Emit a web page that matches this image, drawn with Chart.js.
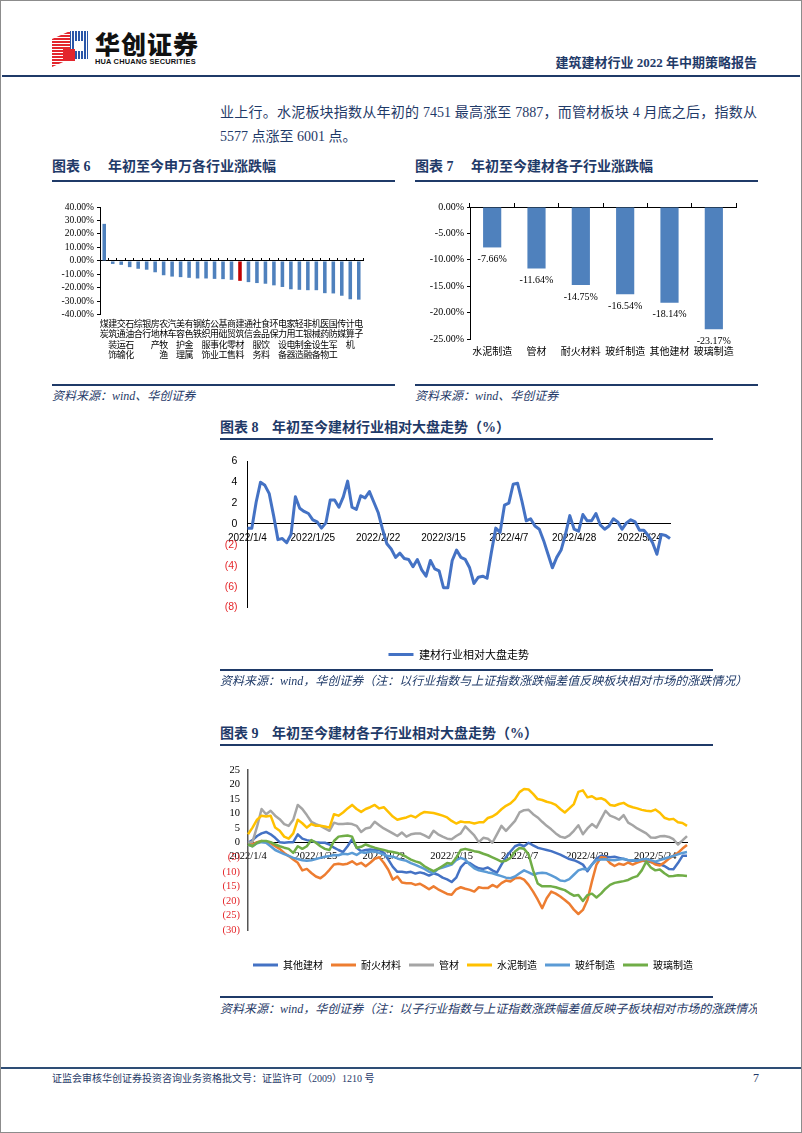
<!DOCTYPE html>
<html>
<head>
<meta charset="utf-8">
<script src="https://cdn.jsdelivr.net/npm/chart.js@4.4.1/dist/chart.umd.min.js"></script>
<style>
html,body{margin:0;padding:0;background:#fff;}
#page{position:relative;width:802px;height:1133px;overflow:hidden;background:#fff;font-family:"Liberation Serif","Noto Sans CJK SC",serif;}
#frame{position:absolute;left:0;top:0;width:802px;height:1133px;box-sizing:border-box;border:1px solid #8c8c8c;pointer-events:none;}
.rule{position:absolute;background:#1f3a68;}
.title{position:absolute;font-family:"Liberation Serif","Noto Sans CJK SC",serif;font-weight:700;font-size:14px;color:#1f3a68;white-space:nowrap;line-height:16px;}
.src{position:absolute;font-family:"Liberation Serif","Noto Sans CJK SC",serif;font-style:italic;color:#1f3a68;white-space:nowrap;}
canvas{position:absolute;}
.body{position:absolute;left:220px;width:537px;font-size:14px;line-height:18px;color:#1f3a68;white-space:nowrap;font-family:"Liberation Serif","Noto Sans CJK SC",serif;}
</style>
</head>
<body>
<div id="page">
  <!-- header -->
  <svg style="position:absolute;left:51px;top:29px" width="40" height="40" viewBox="0 0 40 40">
    <defs>
      <pattern id="rs" width="4" height="3" patternUnits="userSpaceOnUse"><rect width="4" height="2" fill="#e3262d"/></pattern>
      <pattern id="bs" width="3" height="4" patternUnits="userSpaceOnUse"><rect width="2" height="4" fill="#2a56a8"/></pattern>
    </defs>
    <polygon points="1,10 19,2 19,30 1,38" fill="url(#rs)"/>
    <polygon points="19,2 37,2 37,30 19,30" fill="url(#bs)"/>
    <rect x="23" y="12" width="10" height="10" fill="#fff"/>
    <rect x="12" y="20" width="12" height="12" fill="#e3262d"/>
  </svg>
  <div style="position:absolute;left:95px;top:28px;font-family:'Noto Sans CJK SC';font-weight:900;font-size:25px;letter-spacing:1px;color:#111;line-height:30px;">华创证券</div>
  <div style="position:absolute;left:95px;top:57px;font-family:'Liberation Sans';font-weight:700;font-size:7.4px;color:#111;line-height:9px;letter-spacing:0.2px;">HUA CHUANG SECURITIES</div>
  <div style="position:absolute;right:45px;top:55px;font-family:'Liberation Serif','Noto Sans CJK SC';font-weight:700;font-size:13px;color:#1f3a68;line-height:16px;white-space:nowrap;">建筑建材行业 2022 年中期策略报告</div>
  <div class="rule" style="left:2px;top:75px;width:798px;height:2px;"></div>

  <div class="body" style="top:104px;text-align:justify;text-align-last:justify;">业上行。水泥板块指数从年初的 7451 最高涨至 7887，而管材板块 4 月底之后，指数从</div>
  <div class="body" style="top:128px;">5577 点涨至 6001 点。</div>

  <!-- chart 6 / 7 headings -->
  <div class="title" style="left:52px;top:159px;">图表 6</div>
  <div class="title" style="left:108px;top:159px;">年初至今申万各行业涨跌幅</div>
  <div class="rule" style="left:52px;top:180px;width:343px;height:2px;"></div>
  <div class="title" style="left:415px;top:159px;">图表 7</div>
  <div class="title" style="left:471px;top:159px;">年初至今建材各子行业涨跌幅</div>
  <div class="rule" style="left:415px;top:180px;width:343px;height:2px;"></div>

  <canvas id="c6" width="350" height="175" style="left:45px;top:195px;"></canvas>
  <canvas id="c7" width="350" height="175" style="left:415px;top:195px;"></canvas>

  <div class="rule" style="left:52px;top:384px;width:343px;height:1.5px;"></div>
  <div class="rule" style="left:415px;top:384px;width:343px;height:1.5px;"></div>
  <div class="src" style="left:52px;top:388px;font-size:12px;line-height:16px;">资料来源：wind、华创证券</div>
  <div class="src" style="left:415px;top:388px;font-size:12px;line-height:16px;">资料来源：wind、华创证券</div>

  <!-- chart 8 -->
  <div class="title" style="left:220px;top:420px;">图表 8</div>
  <div class="title" style="left:272px;top:420px;">年初至今建材行业相对大盘走势（%）</div>
  <div class="rule" style="left:220px;top:438px;width:493px;height:2px;"></div>
  <canvas id="c8" width="495" height="230" style="left:220px;top:445px;"></canvas>
  <div class="rule" style="left:220px;top:669px;width:493px;height:1.5px;"></div>
  <div class="src" style="left:220px;top:674px;font-size:12px;line-height:15px;">资料来源：wind，华创证券（注：以行业指数与上证指数涨跌幅差值反映板块相对市场的涨跌情况）</div>

  <!-- chart 9 -->
  <div class="title" style="left:220px;top:726px;">图表 9</div>
  <div class="title" style="left:272px;top:726px;">年初至今建材各子行业相对大盘走势（%）</div>
  <div class="rule" style="left:220px;top:744px;width:493px;height:2px;"></div>
  <canvas id="c9" width="510" height="235" style="left:220px;top:750px;"></canvas>
  <div class="rule" style="left:220px;top:996px;width:493px;height:1.5px;"></div>
  <div style="position:absolute;left:220px;top:1001px;width:537px;height:18px;overflow:hidden;">
    <div class="src" style="left:0;top:1px;font-size:12px;line-height:15px;">资料来源：wind，华创证券（注：以子行业指数与上证指数涨跌幅差值反映子板块相对市场的涨跌情况）</div>
  </div>

  <!-- footer -->
  <div class="rule" style="left:0;top:1067px;width:802px;height:2px;background:#2e4d75;"></div>
  <div style="position:absolute;left:52px;top:1072px;font-size:10px;line-height:14px;color:#1f3a68;white-space:nowrap;font-family:'Liberation Serif','Noto Sans CJK SC';">证监会审核华创证券投资咨询业务资格批文号：证监许可（2009）1210 号</div>
  <div style="position:absolute;left:753px;top:1071px;font-size:12px;line-height:15px;color:#1f3a68;font-family:'Liberation Serif';">7</div>
  <div id="frame"></div>
</div>

<script>
// ---------- data ----------
const swIndustries = ['煤炭','建筑装饰','交通运输','石油石化','综合','银行','房地产','农林牧渔','汽车','美容护理','有色金属','钢铁','纺织服饰','公用事业','基础化工','商贸零售','建筑材料','通信','社会服务','食品饮料','环保','电力设备','家用电器','轻工制造','非银金融','机械设备','医药生物','国防军工','传媒','计算机','电子'];
const swChange = [27.5, -2.2, -2.9, -4.6, -5.8, -6.5, -8.4, -10.6, -11.6, -12.0, -12.5, -13.0, -13.0, -13.3, -13.5, -14.0, -14.75, -15.7, -16.4, -16.9, -18.1, -19.3, -21.0, -21.4, -21.7, -21.7, -23.9, -24.1, -25.8, -28.4, -28.7];
const highlightIndustry = '建筑材料';

const subIndustries = ['水泥制造','管材','耐火材料','玻纤制造','其他建材','玻璃制造'];
const subChange = [-7.66, -11.64, -14.75, -16.54, -18.14, -23.17];

const janDays = [4,5,6,7,10,11,12,13,14,17,18,19,20,21,24,25,26,27,28];
const febDays = [7,8,9,10,11,14,15,16,17,18,21,22,23,24,25,28];
const marDays = [1,2,3,4,7,8,9,10,11,14,15,16,17,18,21,22,23,24,25,28,29,30,31];
const aprDays = [1,6,7,8,11,12,13,14,15,18,19,20,21,22,25,26,27,28,29];
const mayDays = [5,6,9,10,11,12,13,16,17,18,19,20,23,24,25,26,27,30,31];
const junDays = [1,2];
const tradingDates = [].concat(
  janDays.map(d => '2022/1/' + d), febDays.map(d => '2022/2/' + d), marDays.map(d => '2022/3/' + d),
  aprDays.map(d => '2022/4/' + d), mayDays.map(d => '2022/5/' + d), junDays.map(d => '2022/6/' + d));
const shownDates = ['2022/1/4','2022/1/25','2022/2/22','2022/3/15','2022/4/7','2022/4/28','2022/5/24'];

const bmRelative = [-0.4, -0.4, 2.1, 4.0, 3.7, 2.9, 0.8, -1.5, -1.4, -1.8,
 -1.0, 2.6, 1.5, 1.2, 1.0, 0.4, 0.2, -0.4, 0.1, 2.3,
 2.3, 1.6, 2.6, 4.1, 1.6, 1.4, 2.7, 2.5, 3.1, 2.1,
 1.1, -0.5, -1.9, -2.4, -3.2, -2.8, -3.3, -3.4, -4.1, -3.4,
 -4.4, -5.0, -3.5, -4.3, -4.5, -6.1, -6.1, -3.5, -2.5, -3.2,
 -3.4, -4.2, -5.7, -5.1, -5.0, -5.2, -2.7, -0.4, -0.8, 1.8,
 2.0, 3.8, 3.9, 2.2, 0.3, 0.5, -0.2, -0.5, -1.6, -2.9,
 -4.2, -3.2, -2.5, -1.0, 0.8, -0.5, -0.7, 0.9, 0.3, 0.3,
 1.0, -0.1, -0.5, -0.2, 0.5, 0.2, -0.5, 0.1, 0.4, 0.2,
 -0.6, -0.6, -1.1, -1.8, -2.9, -1.0, -1.1, -1.4];

const otherBM = [0, 0.9, 2.3, 3.2, 3.7, 2.9, 1.7, 0.2, 0, 0.2,
 0.2, 2.9, 1.4, 0.9, 0.6, 0.2, 0, 0, -0.6, -1.7,
 -2.5, -3.2, -1.2, 1.2, -1.7, -2.9, -2.5, -2.3, -2.5, -2.5,
 -3.5, -5.8, -8.3, -10.0, -10.0, -10.2, -10.0, -10.6, -10.2, -10.6,
 -11.3, -10.5, -11.0, -12.0, -12.6, -13.5, -12.0, -8.5, -6.8, -7.0,
 -8.0, -8.8, -9.0, -8.5, -9.5, -10.3, -7.5, -5.0, -3.0, -1.2,
 -0.6, -1.2, 0, -0.9, -1.7, -2.1, -2.5, -2.9, -3.5, -4.1,
 -4.9, -5.6, -6.0, -6.7, -7.5, -9.8, -7.5, -5.5, -4.5, -4.8,
 -5.0, -4.8, -5.2, -5.6, -6.0, -6.2, -6.0, -6.2, -6.3, -6.6,
 -7.0, -7.4, -8.0, -9.0, -9.1, -7.0, -4.5, -4.5];
const refractory = [0, -0.6, 0.2, 0.6, 0.2, -0.2, -1.2, -2.1, -3.5, -4.6,
 -5.8, -6.9, -9.5, -9.0, -10.4, -11.6, -12.2, -11.0, -9.3, -7.5,
 -7.2, -7.5, -7.2, -6.4, -7.5, -6.9, -8.1, -6.9, -5.5, -5.0,
 -6.9, -9.3, -12.7, -11.6, -13.7, -13.9, -13.9, -14.5, -14.1, -15.0,
 -16.0, -15.0, -16.0, -16.8, -17.6, -17.9, -16.0, -15.3, -15.8, -16.2,
 -16.8, -15.3, -15.6, -15.6, -14.5, -15.3, -13.9, -13.0, -13.3, -12.2,
 -12.0, -12.7, -14.5, -16.8, -19.5, -22.5, -19.1, -16.8, -17.5, -18.5,
 -19.7, -21.0, -23.0, -24.5, -23.1, -19.7, -13.3, -7.5, -5.0, -5.2,
 -7.0, -8.0, -7.2, -7.6, -6.8, -7.5, -6.8, -6.3, -5.8, -6.5,
 -7.5, -7.8, -6.8, -5.5, -4.5, -3.5, -2.0, -0.8];
const pipe = [0, 0.3, 5.5, 11.6, 9.8, 11.0, 9.3, 8.1, 6.4, 5.8,
 7.9, 13.0, 11.6, 9.5, 7.2, 6.4, 5.8, 4.9, 4.1, 6.9,
 6.4, 6.4, 6.6, 6.4, 5.8, 3.7, 4.9, 5.2, 7.2, 6.0,
 4.9, 4.1, 3.2, 2.3, 3.5, 2.1, 2.9, 3.2, 3.2, 2.5,
 1.7, 4.1, 2.9, 2.1, 1.4, 1.2, 2.3, 3.2, 5.6, 4.1,
 2.5, 0.2, 1.7, 1.4, 0, 2.9, 5.8, 4.1, 5.8, 7.5,
 10.4, 11.2, 11.3, 9.8, 8.7, 7.2, 5.8, 4.6, 3.2, 2.1,
 1.7, 2.5, 4.1, 6.0, 2.9, 4.9, 6.4, 5.2, 8.1, 11.0,
 9.3, 8.7, 7.9, 9.5, 6.9, 6.0, 4.9, 4.1, 3.2, 1.8,
 1.7, 2.2, 2.3, 2.0, 1.2, -0.6, 0.8, 2.3];
const cement = [2.9, 5.2, 7.9, 9.3, 9.0, 9.3, 5.2, 4.1, 2.1, 1.4,
 3.2, 7.9, 6.7, 5.2, 6.4, 5.8, 5.8, 5.6, 5.2, 9.8,
 9.3, 10.4, 11.8, 13.0, 11.6, 10.6, 11.6, 12.2, 13.0, 11.8,
 12.2, 10.6, 9.0, 7.9, 8.3, 8.7, 9.3, 8.7, 9.8, 10.6,
 10.4, 10.2, 9.8, 9.3, 8.7, 7.5, 6.6, 7.3, 7.0, 7.0,
 6.6, 7.0, 7.0, 8.5, 9.0, 10.0, 11.5, 12.7, 13.5, 15.0,
 17.4, 18.5, 18.3, 16.8, 15.0, 14.7, 14.1, 13.7, 13.0, 11.6,
 10.4, 11.8, 13.3, 17.5, 18.0, 15.6, 16.0, 15.0, 15.3, 14.6,
 13.0, 12.7, 13.3, 13.7, 12.7, 12.2, 11.8, 11.3, 11.0, 10.8,
 11.4, 10.3, 8.6, 8.0, 8.2, 7.0, 6.8, 5.8];
const fiberglass = [-0.6, -1.2, -0.2, 0.2, 0, -1.2, -2.5, -3.2, -3.9, -4.5,
 -5.2, -5.6, -6.0, -6.2, -6.0, -5.6, -5.2, -4.8, -4.6, -4.2,
 -4.3, -3.8, -4.0, -3.5, -4.2, -3.2, -3.5, -3.0, -3.0, -3.5,
 -4.1, -4.6, -4.8, -5.4, -5.9, -6.2, -7.0, -7.6, -8.3, -9.0,
 -10.0, -10.4, -9.0, -8.5, -8.0, -7.5, -6.0, -5.2, -5.8, -7.5,
 -8.8, -9.5, -9.8, -10.2, -10.5, -11.0, -11.5, -12.0, -12.2, -11.6,
 -10.5, -9.5, -10.2, -11.0, -10.5, -10.3, -10.5, -11.2, -12.0, -13.0,
 -13.2, -12.5, -11.0, -9.5, -9.0, -9.2, -7.5, -6.0, -5.8, -5.7,
 -5.9, -6.0, -5.8, -5.5, -6.0, -6.0, -6.2, -5.8, -5.6, -6.0,
 -6.5, -6.0, -5.5, -5.0, -4.5, -4.0, -3.5, -3.2];
const glass = [-0.6, -1.2, 0, 0.6, 0.6, 0.2, -0.6, -1.2, -1.7, -2.1,
 -3.5, -1.2, -2.1, -1.2, 0.9, 0, -1.2, -2.1, -2.5, 0.6,
 2.1, 2.3, 2.5, 2.1, -1.7, -1.4, -0.6, -1.2, -1.7, -2.1,
 -2.5, -2.9, -3.2, -3.5, -4.1, -4.9, -5.8, -6.4, -6.9, -8.1,
 -9.0, -9.8, -9.0, -8.0, -7.0, -7.2, -5.2, -2.5, -2.1, -2.5,
 -2.9, -3.2, -3.8, -4.3, -5.0, -5.7, -6.5, -6.2, -5.2, -3.0,
 -1.8, -2.1, -4.0, -9.5, -14.0, -15.0, -15.0, -15.0, -15.3, -15.8,
 -16.3, -17.3, -18.2, -18.0, -20.0, -18.0, -17.5, -18.8, -17.5, -15.8,
 -14.5, -13.8, -13.5, -13.2, -12.8, -12.0, -11.5, -9.5, -6.5, -8.5,
 -9.5, -9.2, -10.5, -11.5, -11.4, -11.2, -11.3, -11.4];

const subSeriesNames = ['其他建材','耐火材料','管材','水泥制造','玻纤制造','玻璃制造'];
const subSeriesValues = [otherBM, refractory, pipe, cement, fiberglass, glass];
const subSeriesColors = ['#4472c4','#ed7d31','#a5a5a5','#ffc000','#5b9bd5','#70ad47'];

// ---------- styles ----------
const FONT_SERIF = '"Liberation Serif", "Noto Sans CJK SC", serif';
const FONT_SANS = '"Liberation Sans", "Noto Sans CJK SC", sans-serif';
const FONT_CJK = '"Noto Sans CJK SC", "Liberation Serif", serif';
const NEG_RED = '#e5262a';
const BAR_BLUE = '#4f81bd';
const BAR_RED = '#c00000';

function base() {
  return { responsive: false, maintainAspectRatio: false, animation: false, devicePixelRatio: 1, events: [] };
}
const negColor = (c) => (c.tick && c.tick.value < 0) ? NEG_RED : '#000';
const parenLabel = (v) => v < 0 ? '(' + (-v) + ')' : String(v);
function dateTick(v) {
  const lab = this.getLabelForValue(v);
  return shownDates.indexOf(lab) >= 0 ? lab : '';
}

// ---------- chart 6 ----------
new Chart(document.getElementById('c6'), {
  type: 'bar',
  data: {
    labels: swIndustries.map(s => s.split('')),
    datasets: [{
      data: swChange,
      backgroundColor: swIndustries.map(n => n === highlightIndustry ? BAR_RED : BAR_BLUE),
      barPercentage: 0.42, categoryPercentage: 1, xAxisID: 'x', yAxisID: 'y'
    }]
  },
  options: Object.assign(base(), {
    layout: { padding: { left: 0, right: 32, top: 12, bottom: 7 } },
    plugins: { legend: { display: false }, tooltip: { enabled: false } },
    scales: {
      x: {
        type: 'category', position: 'bottom', offset: true,
        grid: { display: false, drawTicks: false }, border: { display: false },
        ticks: { autoSkip: false, maxRotation: 0, minRotation: 0, padding: 3, color: '#000',
                 font: { family: FONT_CJK, size: 9, lineHeight: 1.17 } }
      },
      x0: {
        type: 'category', axis: 'x', position: { y: 0 }, offset: true,
        grid: { display: true, drawOnChartArea: false, drawTicks: true, tickLength: -3, offset: true, color: '#000', lineWidth: 1 },
        border: { display: true, color: '#000', width: 1 },
        ticks: { display: false }
      },
      y: {
        min: -40, max: 40,
        grid: { display: true, drawOnChartArea: false, drawTicks: true, tickLength: 3, color: '#000' },
        border: { display: true, color: '#000', width: 1 },
        ticks: { stepSize: 10, autoSkip: false, padding: 3, color: '#000', font: { family: FONT_SERIF, size: 9.5 },
                 callback: v => v.toFixed(2) + '%' },
        afterFit: s => { s.width = 55; }
      }
    }
  })
});

// ---------- chart 7 ----------
const barValueLabels = {
  id: 'barValueLabels',
  afterDatasetsDraw(chart) {
    const ctx = chart.ctx;
    const meta = chart.getDatasetMeta(0);
    const vals = chart.data.datasets[0].data;
    ctx.save();
    ctx.font = '10px ' + FONT_SERIF;
    ctx.fillStyle = '#000';
    ctx.textAlign = 'center';
    ctx.textBaseline = 'middle';
    meta.data.forEach((bar, i) => {
      ctx.fillText(vals[i].toFixed(2) + '%', bar.x, bar.y + 12);
    });
    ctx.restore();
  }
};
new Chart(document.getElementById('c7'), {
  type: 'bar',
  data: {
    labels: subIndustries,
    datasets: [{ data: subChange, backgroundColor: BAR_BLUE, barPercentage: 0.41, categoryPercentage: 1, xAxisID: 'x', yAxisID: 'y' }]
  },
  plugins: [barValueLabels],
  options: Object.assign(base(), {
    layout: { padding: { left: 0, right: 29, top: 8, bottom: 7 } },
    plugins: { legend: { display: false }, tooltip: { enabled: false } },
    scales: {
      x: {
        type: 'category', position: 'bottom', offset: true,
        grid: { display: false, drawTicks: false }, border: { display: false },
        ticks: { autoSkip: false, maxRotation: 0, padding: 6, color: '#000', font: { family: FONT_CJK, size: 10, lineHeight: 1.2 } }
      },
      xTop: {
        type: 'category', axis: 'x', position: 'top', offset: true,
        grid: { display: true, drawOnChartArea: false, drawTicks: true, tickLength: 4, offset: true, color: '#000' },
        border: { display: true, color: '#000', width: 1 },
        ticks: { display: false }
      },
      y: {
        min: -25, max: 0,
        grid: { display: true, drawOnChartArea: false, drawTicks: true, tickLength: 3, color: '#000' },
        border: { display: true, color: '#000', width: 1 },
        ticks: { stepSize: 5, autoSkip: false, padding: 3, color: '#000', font: { family: FONT_SERIF, size: 10 },
                 callback: v => v.toFixed(2) + '%' },
        afterFit: s => { s.width = 55; }
      }
    }
  })
});

// ---------- chart 8 ----------
new Chart(document.getElementById('c8'), {
  type: 'line',
  data: {
    labels: tradingDates,
    datasets: [{
      label: '建材行业相对大盘走势', data: bmRelative,
      borderColor: '#4472c4', backgroundColor: '#4472c4', borderWidth: 3,
      pointRadius: 0, pointBorderWidth: 3, tension: 0, borderJoinStyle: 'round',
      xAxisID: 'x', yAxisID: 'y'
    }]
  },
  options: Object.assign(base(), {
    layout: { padding: { left: 0, right: 45, top: 16, bottom: 5 } },
    plugins: {
      tooltip: { enabled: false },
      legend: {
        position: 'bottom', fullSize: false,
        labels: { usePointStyle: true, pointStyle: 'line', pointStyleWidth: 25, padding: 10, color: '#000',
                  font: { family: FONT_CJK, size: 11 } }
      }
    },
    scales: {
      x: {
        type: 'category', position: { y: 0 },
        grid: { display: false, drawTicks: false },
        border: { display: true, color: '#000', width: 1 },
        ticks: { autoSkip: false, maxRotation: 0, minRotation: 0, padding: 8, color: '#000',
                 font: { family: FONT_SANS, size: 10, lineHeight: 1.2 }, callback: dateTick }
      },
      xPad: {
        type: 'category', axis: 'x', position: 'bottom',
        grid: { display: false, drawTicks: false }, border: { display: false }, ticks: { display: false },
        afterFit: s => { s.height = 31.5; }
      },
      y: {
        min: -8, max: 6,
        grid: { display: false, drawTicks: false },
        border: { display: true, color: '#000', width: 1 },
        ticks: { stepSize: 2, autoSkip: false, padding: 10, color: negColor, font: { family: FONT_SANS, size: 10.5 }, callback: parenLabel },
        afterFit: s => { s.width = 26; }
      }
    }
  })
});

// ---------- chart 9 ----------
new Chart(document.getElementById('c9'), {
  type: 'line',
  data: {
    labels: tradingDates,
    datasets: subSeriesNames.map((name, i) => ({
      label: name, data: subSeriesValues[i],
      borderColor: subSeriesColors[i], backgroundColor: subSeriesColors[i],
      borderWidth: 2.5, pointRadius: 0, pointBorderWidth: 3, tension: 0, borderJoinStyle: 'round',
      order: subSeriesNames.length - i, xAxisID: 'x', yAxisID: 'y'
    }))
  },
  options: Object.assign(base(), {
    layout: { padding: { left: 0, right: 4, top: 20, bottom: 5 } },
    plugins: {
      tooltip: { enabled: false },
      legend: {
        position: 'bottom', fullSize: true,
        labels: { usePointStyle: true, pointStyle: 'line', pointStyleWidth: 25, padding: 8, color: '#000',
                  font: { family: FONT_CJK, size: 10 },
                  sort: (a, b) => a.datasetIndex - b.datasetIndex }
      }
    },
    scales: {
      x: {
        type: 'category', position: { y: 0 },
        grid: { display: false, drawTicks: false },
        border: { display: true, color: '#000', width: 1 },
        ticks: { autoSkip: false, maxRotation: 0, minRotation: 0, padding: 7, color: '#000',
                 font: { family: FONT_SERIF, size: 10.5, lineHeight: 1.2 }, callback: dateTick }
      },
      xPad: {
        type: 'category', axis: 'x', position: 'bottom',
        grid: { display: false, drawTicks: false }, border: { display: false }, ticks: { display: false },
        afterFit: s => { s.height = 22; }
      },
      y: {
        min: -30, max: 25,
        grid: { display: false, drawTicks: false },
        border: { display: true, color: '#555', width: 1.5 },
        ticks: { stepSize: 5, autoSkip: false, padding: 8, color: negColor, font: { family: FONT_SERIF, size: 10.5 }, callback: parenLabel },
        afterFit: s => { s.width = 28; }
      },
      yPad: {
        type: 'linear', axis: 'y', position: 'right',
        grid: { display: false, drawTicks: false }, border: { display: false }, ticks: { display: false },
        afterFit: s => { s.width = 39; }
      }
    }
  })
});
</script>
</body>
</html>
